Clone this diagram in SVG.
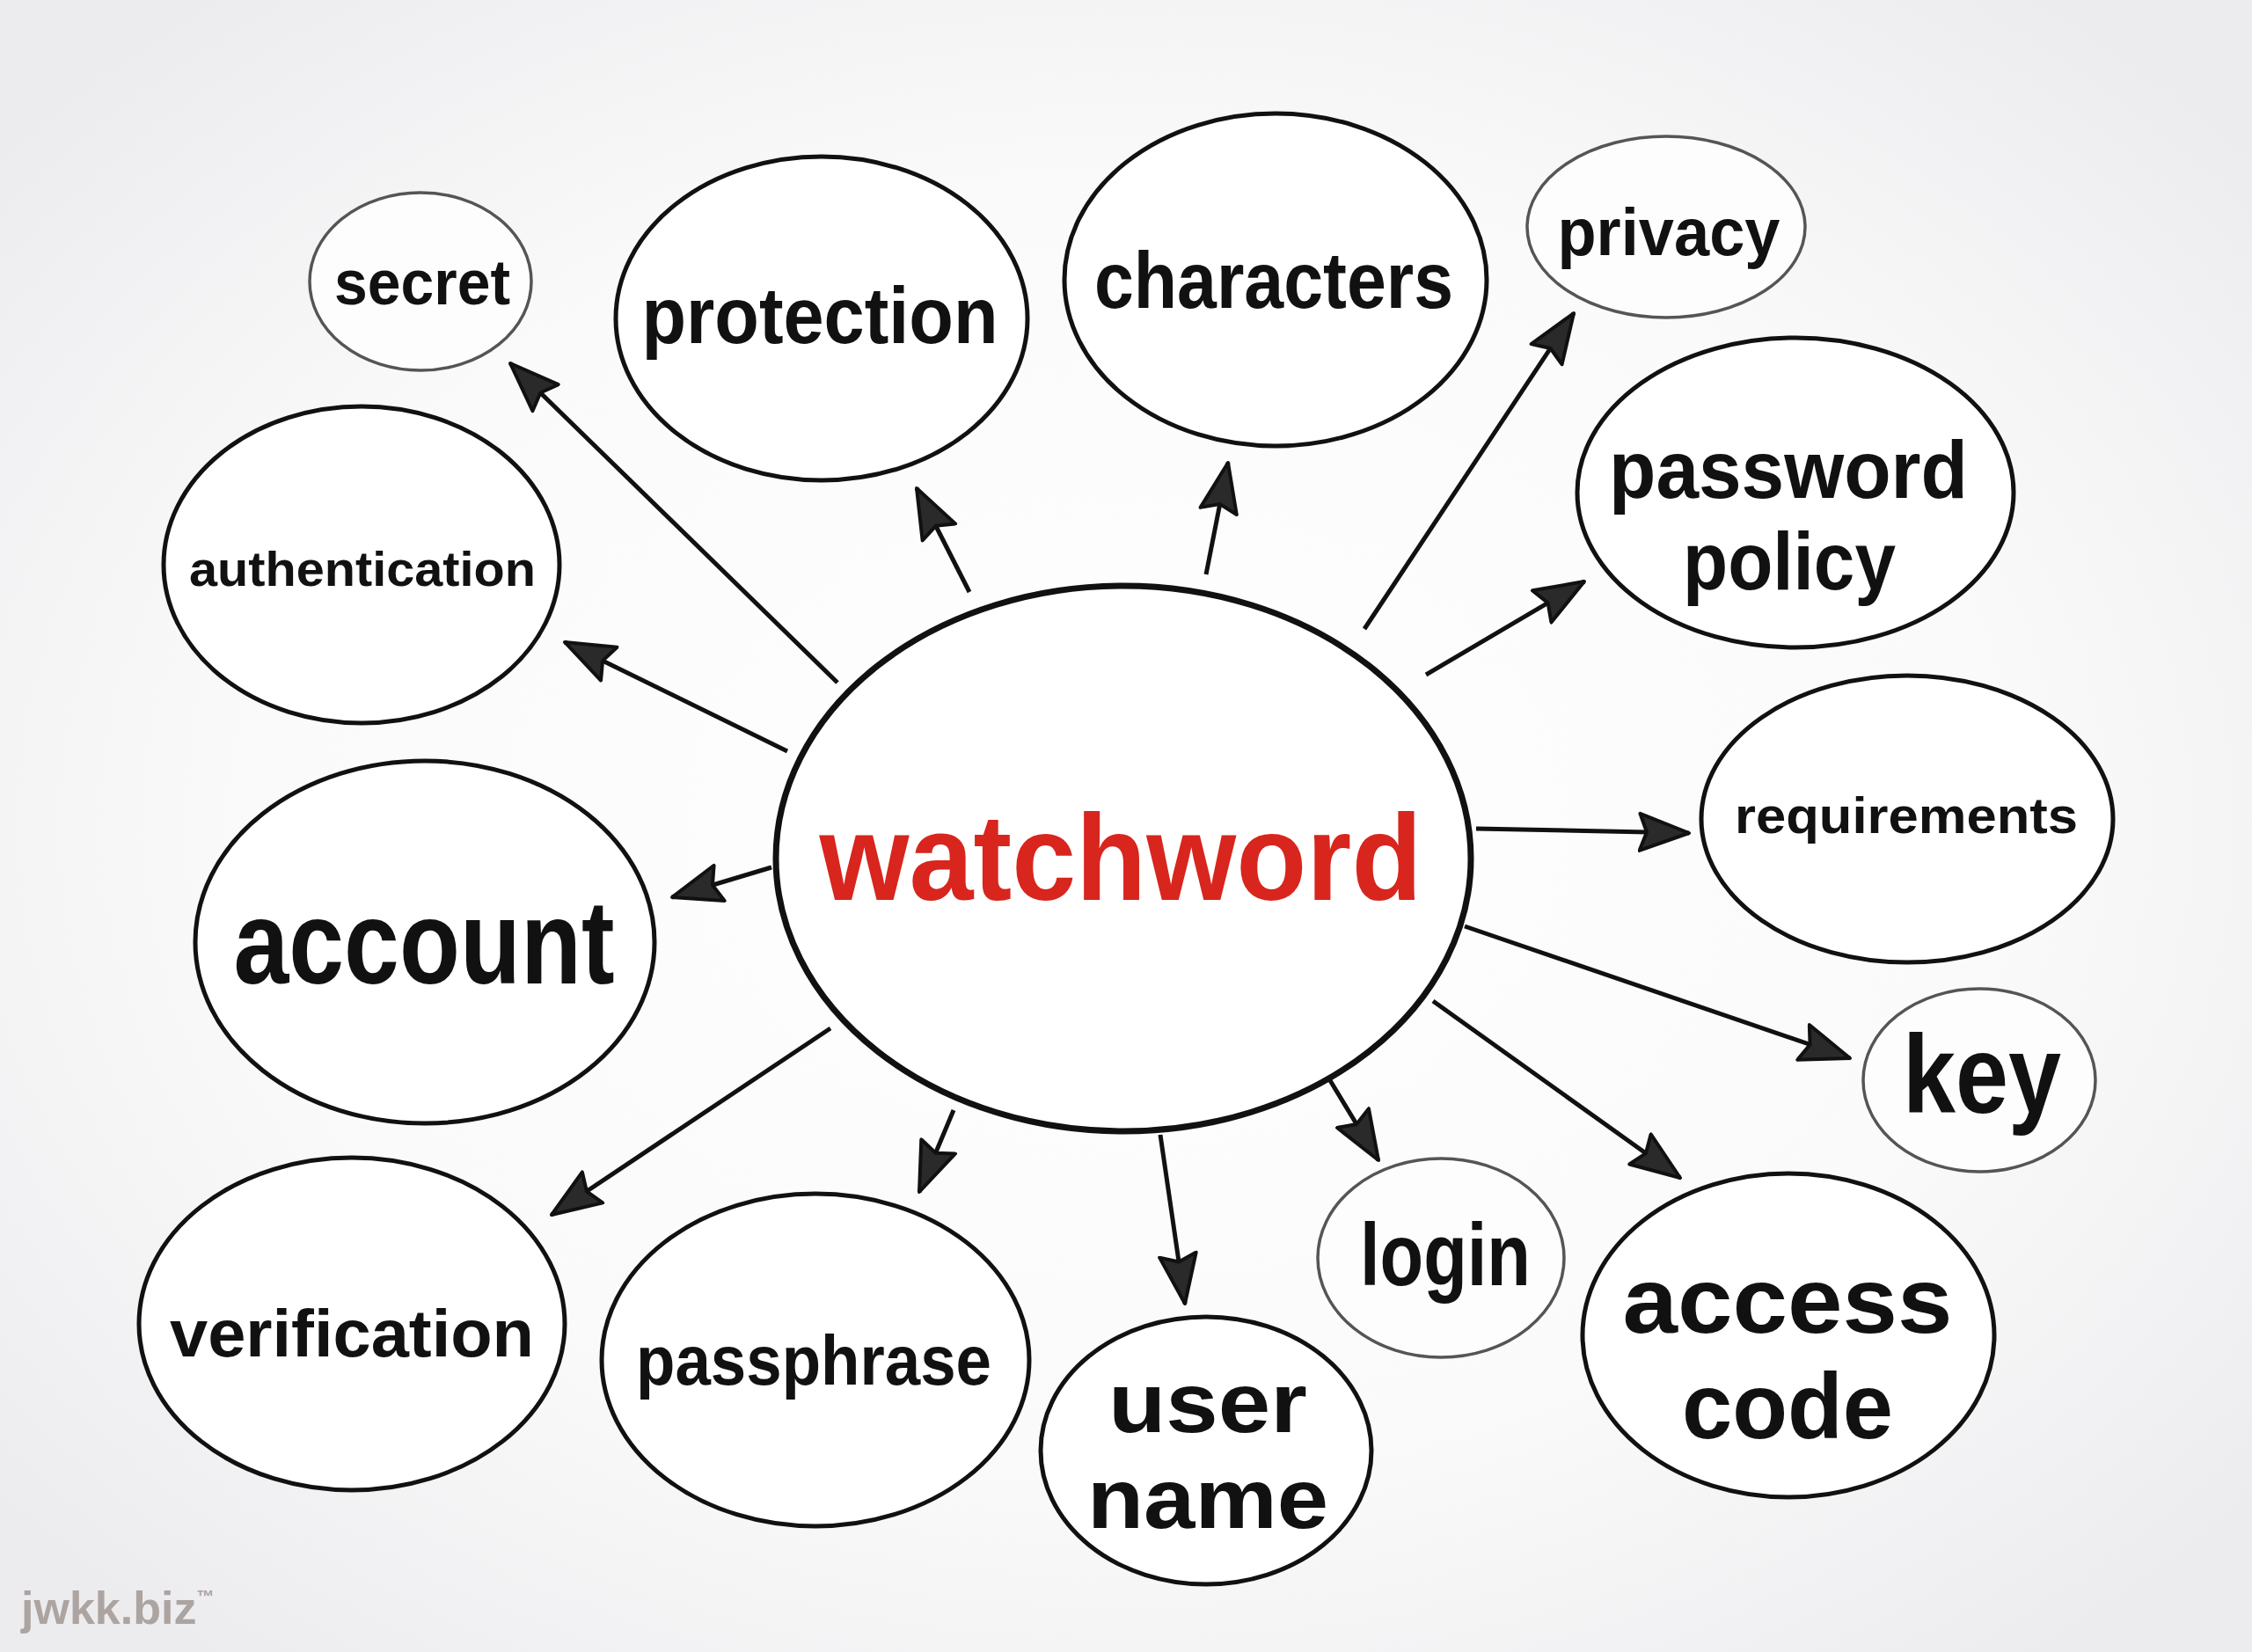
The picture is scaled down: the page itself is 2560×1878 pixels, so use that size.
<svg xmlns="http://www.w3.org/2000/svg" width="2560" height="1878" viewBox="0 0 2560 1878">
<defs>
<radialGradient id="bg" cx="50%" cy="50%" r="65%">
<stop offset="0" stop-color="#ffffff"/>
<stop offset="0.6" stop-color="#fafafa"/>
<stop offset="1" stop-color="#ececef"/>
</radialGradient>
<marker id="ah" markerUnits="userSpaceOnUse" markerWidth="62" markerHeight="48" viewBox="0 0 62 48" refX="58" refY="24" orient="auto">
<path d="M2,3 L58,24 L2,45 L10,24 z" fill="#2a2a2a" stroke="#111" stroke-width="4" stroke-linejoin="round"/>
</marker>
</defs>
<style>
.n{fill:#fff;stroke:#111;stroke-width:5}
.t{fill:#fdfdfd;stroke:#555;stroke-width:3.5}
.c{fill:#fff;stroke:#111;stroke-width:7}
.tx{font-family:"Liberation Sans","Noto Sans",sans-serif;font-weight:700;fill:#111;text-anchor:middle}
.red{fill:#d8251d}
.cn line{stroke:#111;stroke-width:5;marker-end:url(#ah)}
</style>
<rect width="2560" height="1878" fill="url(#bg)"/>
<g id="connectors" class="cn">
<line x1="952" y1="776" x2="580" y2="413"/>
<line x1="1102" y1="673" x2="1042" y2="555"/>
<line x1="1371" y1="653" x2="1396" y2="526"/>
<line x1="1551" y1="715" x2="1789" y2="356"/>
<line x1="1621" y1="767" x2="1801" y2="661"/>
<line x1="895" y1="854" x2="642" y2="730"/>
<line x1="1678" y1="942" x2="1920" y2="947"/>
<line x1="877" y1="986" x2="764" y2="1020"/>
<line x1="1665" y1="1053" x2="2103" y2="1203"/>
<line x1="1629" y1="1138" x2="1910" y2="1339"/>
<line x1="944" y1="1169" x2="627" y2="1381"/>
<line x1="1084" y1="1262" x2="1045" y2="1355"/>
<line x1="1319" y1="1290" x2="1347" y2="1482"/>
<line x1="1510" y1="1225" x2="1567" y2="1319"/>
</g>
<g id="watchword"><ellipse class="c" cx="1277" cy="976" rx="395" ry="310"/><text class="tx red" x="1274" y="1023" font-size="140" textLength="685" lengthAdjust="spacingAndGlyphs">watchword</text></g>
<g id="secret"><ellipse class="t" cx="478" cy="320" rx="126" ry="101"/><text class="tx" x="480" y="346" font-size="72" textLength="200" lengthAdjust="spacingAndGlyphs">secret</text></g>
<g id="protection"><ellipse class="n" cx="934" cy="362" rx="234" ry="184"/><text class="tx" x="932" y="390" font-size="90" textLength="405" lengthAdjust="spacingAndGlyphs">protection</text></g>
<g id="characters"><ellipse class="n" cx="1450" cy="318" rx="240" ry="189"/><text class="tx" x="1448" y="350" font-size="90" textLength="408" lengthAdjust="spacingAndGlyphs">characters</text></g>
<g id="privacy"><ellipse class="t" cx="1894" cy="258" rx="158" ry="103"/><text class="tx" x="1897" y="290" font-size="76" textLength="253" lengthAdjust="spacingAndGlyphs">privacy</text></g>
<g id="password-policy"><ellipse class="n" cx="2041" cy="560" rx="248" ry="176"/><text class="tx" x="2033" y="566" font-size="92" textLength="408" lengthAdjust="spacingAndGlyphs">password</text><text class="tx" x="2034" y="670" font-size="92" textLength="242" lengthAdjust="spacingAndGlyphs">policy</text></g>
<g id="authentication"><ellipse class="n" cx="411" cy="642" rx="225" ry="180"/><text class="tx" x="412" y="666" font-size="56" textLength="394" lengthAdjust="spacingAndGlyphs">authentication</text></g>
<g id="requirements"><ellipse class="n" cx="2168" cy="931" rx="234" ry="163"/><text class="tx" x="2167" y="947" font-size="58" textLength="390" lengthAdjust="spacingAndGlyphs">requirements</text></g>
<g id="account"><ellipse class="n" cx="483" cy="1071" rx="261" ry="206"/><text class="tx" x="482" y="1118" font-size="136" textLength="433" lengthAdjust="spacingAndGlyphs">account</text></g>
<g id="key"><ellipse class="t" cx="2250" cy="1228" rx="132" ry="104"/><text class="tx" x="2253" y="1265" font-size="126" textLength="180" lengthAdjust="spacingAndGlyphs">key</text></g>
<g id="verification"><ellipse class="n" cx="400" cy="1505" rx="242" ry="189"/><text class="tx" x="400" y="1542" font-size="76" textLength="414" lengthAdjust="spacingAndGlyphs">verification</text></g>
<g id="passphrase"><ellipse class="n" cx="927" cy="1546" rx="243" ry="189"/><text class="tx" x="925" y="1574" font-size="80" textLength="404" lengthAdjust="spacingAndGlyphs">passphrase</text></g>
<g id="user-name"><ellipse class="n" cx="1371" cy="1649" rx="188" ry="152"/><text class="tx" x="1373" y="1628" font-size="96" textLength="226" lengthAdjust="spacingAndGlyphs">user</text><text class="tx" x="1373" y="1737" font-size="96" textLength="274" lengthAdjust="spacingAndGlyphs">name</text></g>
<g id="login"><ellipse class="t" cx="1638" cy="1430" rx="140" ry="113"/><text class="tx" x="1643" y="1461" font-size="100" textLength="194" lengthAdjust="spacingAndGlyphs">login</text></g>
<g id="access-code"><ellipse class="n" cx="2033" cy="1518" rx="234" ry="184"/><text class="tx" x="2032" y="1515" font-size="105" textLength="375" lengthAdjust="spacingAndGlyphs">access</text><text class="tx" x="2032" y="1635" font-size="105" textLength="240" lengthAdjust="spacingAndGlyphs">code</text></g>
<text x="24" y="1846" font-family="'Liberation Sans',sans-serif" font-weight="700" font-size="52" fill="#aca4a1">jwkk.biz<tspan font-size="20" dy="-24">™</tspan></text>
</svg>
